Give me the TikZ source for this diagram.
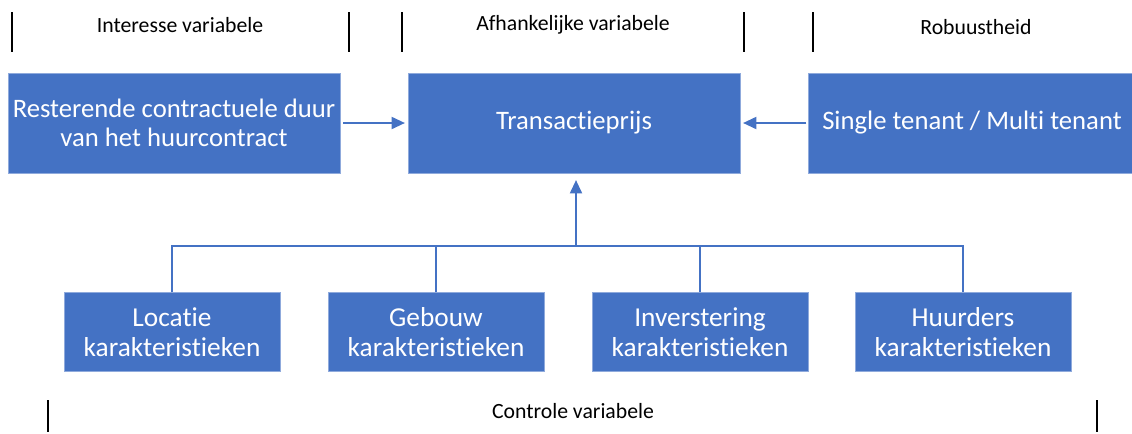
\documentclass[tikz,border=0pt]{standalone}
\usepackage{fontspec}
\setmainfont[Ligatures=NoCommon]{Carlito}
\usetikzlibrary{arrows.meta}
\definecolor{boxblue}{RGB}{68,114,196}
\definecolor{boxedge}{RGB}{143,170,220}
\tikzset{every picture/.style={line width=0.75pt}}

\begin{document}
\begin{tikzpicture}[x=0.75pt,y=0.75pt,yscale=-1,xscale=1,
	mainbox/.style={fill=boxblue,draw=boxedge,line width=0.6pt,text=white,align=center,inner sep=0pt,
		minimum width=249pt,minimum height=75pt,font=\fontsize{20}{22}\selectfont},
	ctrlbox/.style={fill=boxblue,draw=boxedge,line width=0.6pt,text=white,align=center,inner sep=0pt,
		minimum width=162pt,minimum height=59pt,font=\fontsize{20.5}{22.5}\selectfont},
	heading/.style={font=\fontsize{16.3}{18}\selectfont},
	link/.style={draw=boxblue,line width=1.5pt},
	tip/.style={-{Triangle[length=10pt,width=9pt]}}]
	\useasboundingbox (0,0) rectangle (1132,433);

	%Header separators
	\foreach \x in {12,349,402,744,813}
		\draw [line width=1.5pt] (\x,12) -- (\x,52) ;
	%Footer separators
	\foreach \x in {48,1097}
		\draw [line width=1.5pt] (\x,400) -- (\x,432) ;

	% Text Node
	\node [heading] (hint) at (180,25) {Interesse variabele};
	% Text Node
	\node [heading] (hdep) at (573,25) {Afhankelijke variabele};
	% Text Node
	\node [heading] (hrob) at (976,27) {Robuustheid};
	% Text Node
	\node [heading] (hctl) at (573,411) {Controle variabele};

	%Top row
	\node [mainbox] (duur) at (174,123) {Resterende contractuele duur\\van het huurcontract};
	\node [mainbox] (prijs) at (574,123) {Transactieprijs};
	\node [mainbox,minimum width=246pt] (tenant) at (972,123) {Single tenant / Multi tenant};

	%Bottom row
	\node [ctrlbox] (loc) at (172,332) {Locatie\\karakteristieken};
	\node [ctrlbox] (geb) at (436,332) {Gebouw\\karakteristieken};
	\node [ctrlbox] (inv) at (700,332) {Inverstering\\karakteristieken};
	\node [ctrlbox] (hrd) at (963,332) {Huurders\\karakteristieken};

	%Connectors
	\coordinate (bus) at (576,246);
	\draw [link,tip,shorten <=2pt,shorten >=2pt] (duur.east) -- (prijs.west) ;
	\draw [link,tip,shorten <=1pt,shorten >=2pt] (tenant.west) -- (prijs.east) ;
	\draw [link] (loc.north) |- (bus) -| (hrd.north) ;
	\draw [link] (geb.north) -- (geb.north |- bus) ;
	\draw [link] (inv.north) -- (inv.north |- bus) ;
	\draw [link,tip,shorten >=5pt] (bus) -- (prijs.south -| bus) ;

\end{tikzpicture}
\end{document}
